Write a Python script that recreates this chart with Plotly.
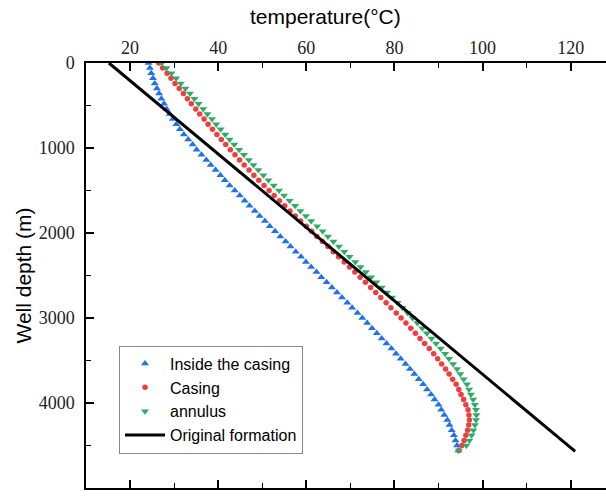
import plotly.graph_objects as go

# depth grid (m)
depth = [0, 60, 120, 180, 240, 300, 360, 420, 480, 540, 600, 660, 720, 780, 840, 900, 960,
         1020, 1080, 1140, 1200, 1260, 1320, 1380, 1440, 1500, 1560, 1620, 1680, 1740, 1800,
         1860, 1920, 1980, 2040, 2100, 2160, 2220, 2280, 2340, 2400, 2460, 2520, 2580, 2640,
         2700, 2760, 2820, 2880, 2940, 3000, 3060, 3120, 3180, 3240, 3300, 3360, 3420, 3480,
         3540, 3600, 3660, 3720, 3780, 3840, 3900, 3960, 4020, 4080, 4140, 4200, 4260, 4320,
         4380, 4440, 4500, 4560]

inside_casing = [24.2, 24.5, 24.8, 25.2, 25.6, 26.1, 26.6, 27.1, 27.7, 28.3, 29.0, 29.7, 30.5,
                 31.3, 32.2, 33.2, 34.2, 35.1, 36.2, 37.3, 38.3, 39.4, 40.5, 41.5, 42.6, 43.75,
                 44.9, 46.0, 47.1, 48.3, 49.4, 50.6, 51.7, 52.9, 54.1, 55.3, 56.4, 57.6, 58.8,
                 59.9, 61.1, 62.3, 63.4, 64.6, 65.8, 66.95, 68.1, 69.3, 70.4, 71.6, 72.7, 73.8,
                 74.9, 76.0, 77.1, 78.2, 79.3, 80.35, 81.4, 82.5, 83.5, 84.5, 85.5, 86.5, 87.4,
                 88.3, 89.1, 90.0, 90.6, 91.3, 92.0, 92.5, 93.0, 93.5, 93.85, 94.2, 94.5]

casing = [26.5, 27.4, 28.4, 29.3, 30.2, 31.15, 32.1, 33.0, 33.9, 34.9, 35.8, 36.8, 37.7, 38.7,
          39.7, 40.7, 41.7, 42.75, 43.8, 44.85, 45.9, 47.0, 48.1, 49.2, 50.4, 51.55, 52.7, 53.9,
          55.1, 56.3, 57.5, 58.7, 60.0, 61.2, 62.4, 63.65, 64.9, 66.1, 67.3, 68.6, 69.8, 71.0,
          72.2, 73.4, 74.6, 75.75, 76.9, 78.1, 79.2, 80.4, 81.5, 82.6, 83.7, 84.75, 85.8, 86.85,
          87.9, 88.9, 89.8, 90.7, 91.6, 92.4, 93.2, 94.0, 94.6, 95.1, 95.7, 96.2, 96.7, 96.9,
          97.0, 96.85, 96.6, 96.2, 95.8, 95.3, 94.6]

annulus = [27.2, 28.25, 29.4, 30.45, 31.5, 32.55, 33.6, 34.6, 35.55, 36.6, 37.55, 38.6, 39.55,
           40.55, 41.6, 42.6, 43.65, 44.75, 45.85, 46.95, 48.0, 49.1, 50.25, 51.4, 52.6, 53.8,
           54.95, 56.2, 57.45, 58.65, 59.9, 61.1, 62.45, 63.7, 64.9, 66.15, 67.4, 68.6, 69.8,
           71.1, 72.3, 73.5, 74.7, 75.9, 77.1, 78.3, 79.45, 80.7, 81.8, 83.0, 84.1, 85.2, 86.3,
           87.35, 88.4, 89.45, 90.5, 91.5, 92.4, 93.3, 94.2, 94.95, 95.7, 96.45, 96.95, 97.35,
           97.85, 98.25, 98.5, 98.6, 98.5, 98.25, 97.9, 97.5, 97.0, 96.3, 94.6]

formation_depth = [0, 4570]
formation_temp = [15.2, 121.0]

x_ticks = [20, 40, 60, 80, 100, 120]
y_ticks = [0, 1000, 2000, 3000, 4000, 5000]

BLUE = "#2272e6"
RED = "#ef3e3e"
GREEN = "#2fab66"

fig = go.Figure()
fig.add_trace(go.Scatter(x=inside_casing, y=depth, mode="markers", name="Inside the casing",
                         marker=dict(symbol="triangle-up", size=7, color=BLUE)))
fig.add_trace(go.Scatter(x=casing, y=depth, mode="markers", name="Casing",
                         marker=dict(symbol="circle", size=5.5, color=RED)))
fig.add_trace(go.Scatter(x=annulus, y=depth, mode="markers", name="annulus",
                         marker=dict(symbol="triangle-down", size=7, color=GREEN)))
fig.add_trace(go.Scatter(x=formation_temp, y=formation_depth, mode="lines",
                         name="Original formation", line=dict(color="black", width=3)))

tickfont = dict(family="Liberation Serif", size=18, color="#222")

fig.update_layout(
    width=606, height=496,
    margin=dict(l=86, r=0, t=63, b=8),
    paper_bgcolor="white", plot_bgcolor="white",
    showlegend=True,
    legend=dict(x=0.0635, y=0.335, xanchor="left", yanchor="top",
                bordercolor="#888", borderwidth=1, bgcolor="white",
                font=dict(family="Liberation Sans", size=16, color="black"),
                itemwidth=40, tracegroupgap=0),
    xaxis=dict(side="top", range=[10, 128], tickvals=x_ticks, showgrid=False, zeroline=False,
               showline=True, linecolor="black", linewidth=1.5, mirror="ticks",
               ticks="inside", ticklen=8, tickwidth=1.5, tickcolor="black",
               minor=dict(dtick=10, tick0=0, ticks="inside", ticklen=5, tickwidth=1.2,
                          tickcolor="black"),
               tickfont=tickfont),
    yaxis=dict(range=[5000, 0], tickvals=y_ticks, showgrid=False, zeroline=False,
               showline=True, linecolor="black", linewidth=1.5,
               ticks="inside", ticklen=8, tickwidth=1.5, tickcolor="black",
               minor=dict(dtick=500, tick0=0, ticks="inside", ticklen=5, tickwidth=1.2,
                          tickcolor="black"),
               tickfont=tickfont, ticklabelstandoff=6,
               title=dict(text="Well depth (m)",
                          font=dict(family="Liberation Sans", size=21, color="black"),
                          standoff=1)),
    annotations=[dict(text="temperature(°C)", xref="paper", yref="paper",
                      x=0.4615, y=1, yshift=33, xanchor="center", yanchor="bottom",
                      showarrow=False,
                      font=dict(family="Liberation Sans", size=21, color="black"))],
)

fig.write_html("out.html")
